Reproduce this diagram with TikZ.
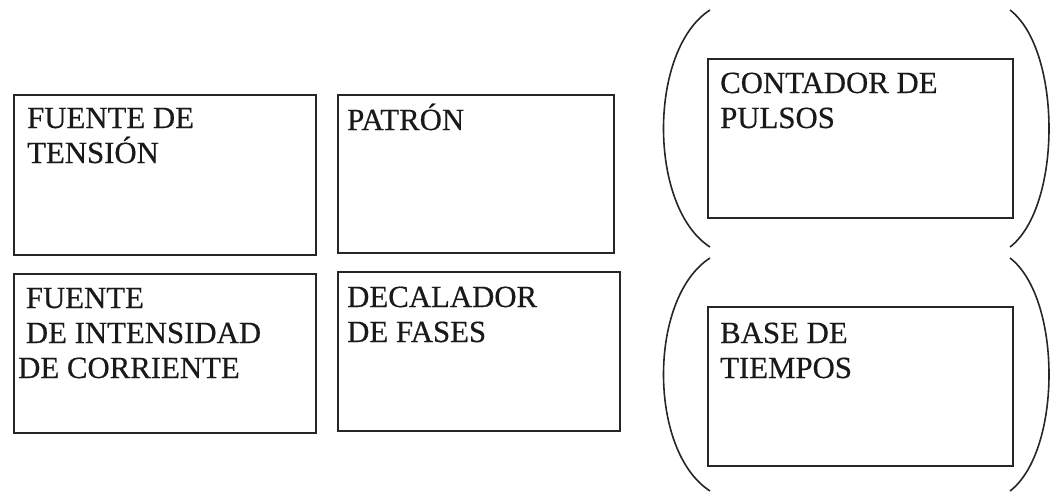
\documentclass[tikz,border=0pt]{standalone}
\usepackage{fontspec}
\setmainfont{Liberation Serif}
\newfontfamily\lblfont[FakeBold=0.5]{Liberation Serif}
\begin{document}
\begin{tikzpicture}[x=1pt,y=-1pt,
  box/.style={draw=black!85, line width=1.8pt, inner sep=0pt, anchor=north west},
  lbl/.style={anchor=base west, align=left, inner sep=0pt, text=black!90, font=\lblfont\fontsize{30.8}{35}\selectfont},
  paren/.style={draw=black!85, line width=1.6pt}]
\useasboundingbox (0,0) rectangle (1052,493);
% boxes
\node[box, minimum width=302pt, minimum height=160pt] (b1) at (13,94) {};
\node[box, minimum width=302pt, minimum height=159pt] (b2) at (13,273) {};
\node[box, minimum width=276pt, minimum height=158pt] (b3) at (337,94) {};
\node[box, minimum width=282pt, minimum height=159pt] (b4) at (337,271) {};
\node[box, minimum width=305pt, minimum height=159pt] (b5) at (707,58) {};
\node[box, minimum width=305pt, minimum height=159pt] (b6) at (707,306) {};
% labels (anchored at the baseline of the last line)
\node[lbl] (t1) at (27,163) {FUENTE DE\\TENSIÓN};
\node[lbl] (t2) at (18,378) {\ FUENTE\\\ DE INTENSIDAD\\DE CORRIENTE};
\node[lbl] (t3) at (347,130) {PATRÓN};
\node[lbl] (t4) at (347,342) {DECALADOR\\DE FASES};
\node[lbl] (t5) at (720,128) {CONTADOR DE\\PULSOS};
\node[lbl] (t6) at (720,378) {BASE DE\\TIEMPOS};
% parentheses
\coordinate (p1a) at (710,10); \coordinate (p1b) at (710,247);
\coordinate (p2a) at (1010,10); \coordinate (p2b) at (1010,247);
\coordinate (p3a) at (710,258); \coordinate (p3b) at (710,491);
\coordinate (p4a) at (1010,258); \coordinate (p4b) at (1010,491);
\draw[paren] (p1a) .. controls (648,50) and (648,207) .. (p1b);
\draw[paren] (p2a) .. controls (1062,50) and (1062,207) .. (p2b);
\draw[paren] (p3a) .. controls (648,298) and (648,451) .. (p3b);
\draw[paren] (p4a) .. controls (1062,298) and (1062,451) .. (p4b);
\end{tikzpicture}
\end{document}
